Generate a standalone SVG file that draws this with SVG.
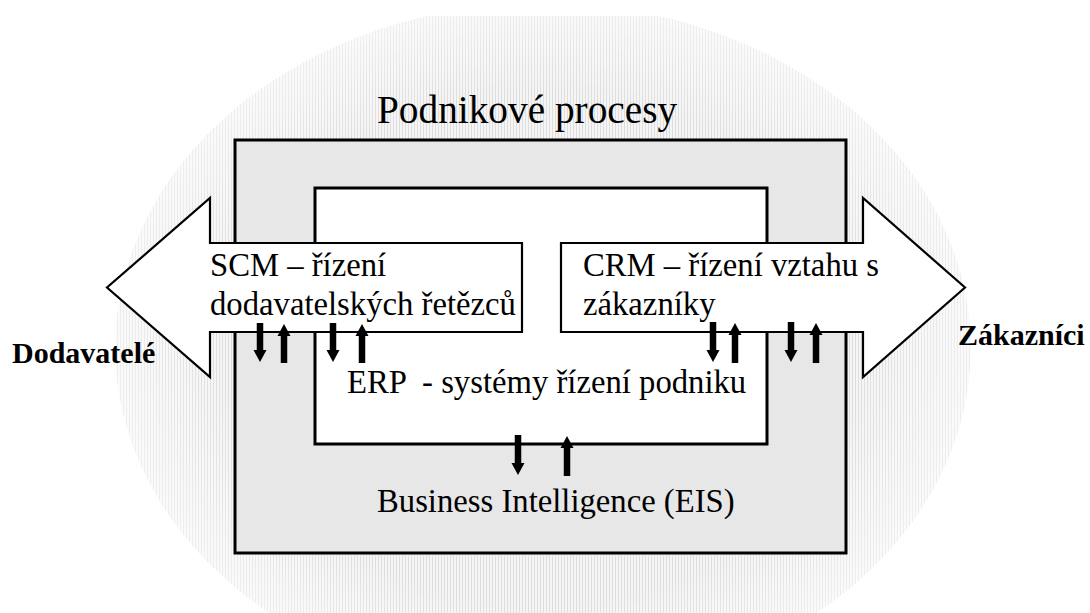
<svg xmlns="http://www.w3.org/2000/svg" width="1090" height="613" viewBox="0 0 1090 613">
  <style>
    .t { font-family: "Liberation Serif", "Times New Roman", serif; font-size: 32.7px; fill: #000; white-space: pre; }
    .title { font-size: 39.3px; }
    .side { font-size: 30px; font-weight: bold; }
    .box { stroke: #000; stroke-width: 3; }
    .big { fill: #fff; stroke: #000; stroke-width: 2.2; stroke-linejoin: miter; }
    .flow { stroke: #000; stroke-width: 6.5; fill: none; marker-end: url(#head); }
  </style>
  <defs>
    <pattern id="stripes" width="3" height="10" patternUnits="userSpaceOnUse">
      <rect width="3" height="10" fill="#f5f5f5"/>
      <rect width="1" height="10" fill="#dedede"/>
    </pattern>
    <radialGradient id="fade" cx="0.5" cy="0.5" r="0.5">
      <stop offset="0" stop-color="#fff" stop-opacity="1"/>
      <stop offset="0.75" stop-color="#fff" stop-opacity="1"/>
      <stop offset="1" stop-color="#fff" stop-opacity="0.5"/>
    </radialGradient>
    <mask id="fadeMask" maskContentUnits="userSpaceOnUse">
      <ellipse cx="543" cy="348" rx="428" ry="345" fill="url(#fade)"/>
    </mask>
    <clipPath id="topClip">
      <rect x="0" y="16" width="1090" height="597"/>
    </clipPath>
    <marker id="head" markerUnits="userSpaceOnUse" markerWidth="13" markerHeight="14" refX="1" refY="7" orient="auto">
      <path d="M0,0.5 L12,7 L0,13.5 z" fill="#000"/>
    </marker>
  </defs>

  <g id="background" clip-path="url(#topClip)">
    <ellipse cx="543" cy="348" rx="428" ry="345" fill="url(#stripes)" mask="url(#fadeMask)"/>
  </g>

  <g id="podnikove-procesy">
    <rect class="box" x="235" y="140" width="611" height="413" fill="#e7e7e7"/>
    <text class="t title" x="377" y="123">Podnikové procesy</text>
    <text class="t" x="377" y="512">Business Intelligence (EIS)</text>
  </g>

  <g id="erp">
    <rect class="box" x="315" y="188" width="452" height="256" fill="#fff"/>
    <text class="t" x="347" y="393">ERP  - systémy řízení podniku</text>
  </g>

  <g id="scm">
    <polygon class="big" points="522,243 210,243 210,198 107,287.5 210,377 210,332 522,332"/>
    <text class="t" x="210" y="276">SCM – řízení</text>
    <text class="t" x="210" y="315">dodavatelských řetězců</text>
  </g>

  <g id="crm">
    <polygon class="big" points="561,243 863,243 863,198 965,287.5 863,377 863,332 561,332"/>
    <text class="t" x="583" y="276">CRM – řízení vztahu s</text>
    <text class="t" x="583" y="315">zákazníky</text>
  </g>

  <g id="dodavatele">
    <text class="t side" x="12" y="363">Dodavatelé</text>
  </g>

  <g id="zakaznici">
    <text class="t side" x="958" y="345">Zákazníci</text>
  </g>

  <g id="connectors">
    <line class="flow" x1="260" y1="323" x2="260" y2="351"/>
    <line class="flow" x1="284" y1="363" x2="284" y2="335"/>
    <line class="flow" x1="333" y1="323" x2="333" y2="351"/>
    <line class="flow" x1="362" y1="363" x2="362" y2="335"/>
    <line class="flow" x1="713" y1="322" x2="713" y2="351"/>
    <line class="flow" x1="735" y1="363" x2="735" y2="334"/>
    <line class="flow" x1="791" y1="322" x2="791" y2="351"/>
    <line class="flow" x1="816" y1="363" x2="816" y2="334"/>
    <line class="flow" x1="518" y1="435" x2="518" y2="464"/>
    <line class="flow" x1="567" y1="476" x2="567" y2="447"/>
  </g>
</svg>
